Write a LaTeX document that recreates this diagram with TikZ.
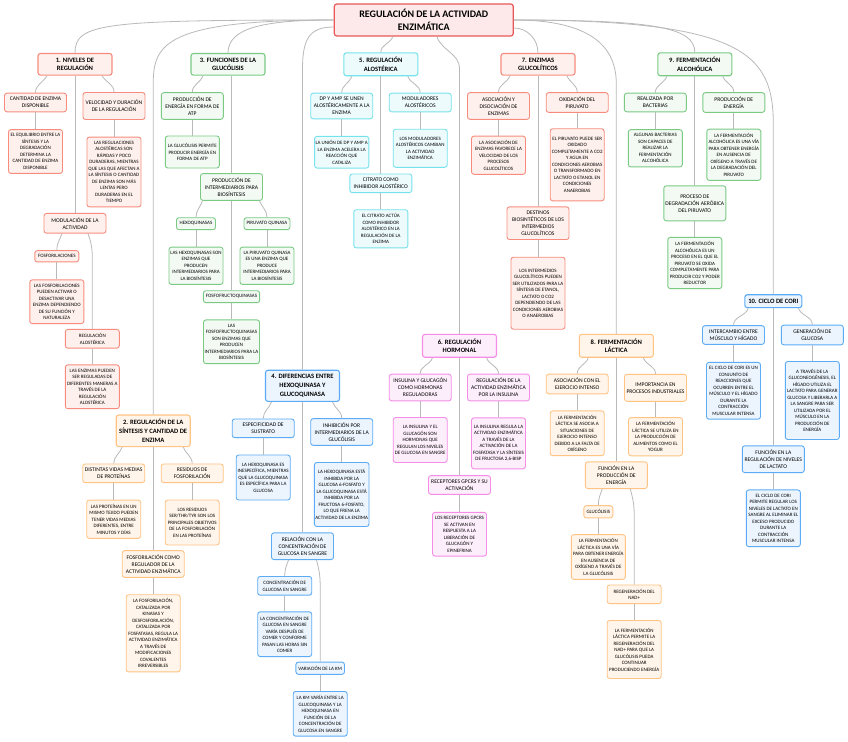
\documentclass[tikz,border=0pt]{standalone}
\usepackage{fontspec}
\setmainfont{Carlito}
\usepackage{xcolor}
\usepackage{tikz}
\usetikzlibrary{calc}

\definecolor{rootline}{RGB}{232,88,88}
\definecolor{rootfill}{RGB}{253,233,233}
\definecolor{redline}{RGB}{247,140,126}
\definecolor{redfill}{RGB}{254,241,237}
\definecolor{greenline}{RGB}{122,202,132}
\definecolor{greenfill}{RGB}{243,250,244}
\definecolor{cyanline}{RGB}{118,226,236}
\definecolor{cyanfill}{RGB}{238,251,253}
\definecolor{blueline}{RGB}{92,172,245}
\definecolor{bluefill}{RGB}{236,245,254}
\definecolor{pinkline}{RGB}{245,140,230}
\definecolor{pinkfill}{RGB}{253,238,251}
\definecolor{orangeline}{RGB}{255,196,132}
\definecolor{orangefill}{RGB}{255,245,234}
\definecolor{linkgray}{RGB}{185,185,185}

\begin{document}
\begin{tikzpicture}[
    x=1pt, y=1pt,
    box/.style={rectangle, draw, rounded corners=2.5pt, align=center, inner xsep=1pt, line width=0.9pt},
    title/.style={box, draw=rootline, fill=rootfill, line width=1.2pt, minimum width=179pt, minimum height=32pt, inner ysep=5pt, font=\bfseries\fontsize{10}{12.7}\selectfont},
    heading/.style={box, line width=1.1pt, minimum width=74pt, inner ysep=4.3pt, font=\bfseries\fontsize{6.6}{8.7}\selectfont},
    topic/.style={box, minimum width=62pt, inner ysep=4pt, font=\fontsize{5.6}{7}\selectfont},
    detail/.style={box, minimum width=54pt, inner ysep=4pt, font=\fontsize{5}{6.5}\selectfont},
    leaf/.style={detail, minimum width=0pt, inner xsep=2.5pt},
    redset/.style={draw=redline, fill=redfill},
    greenset/.style={draw=greenline, fill=greenfill},
    cyanset/.style={draw=cyanline, fill=cyanfill},
    blueset/.style={draw=blueline, fill=bluefill},
    pinkset/.style={draw=pinkline, fill=pinkfill},
    orangeset/.style={draw=orangeline, fill=orangefill},
    link/.style={draw=linkgray, line width=0.8pt}
]
\fill[white] (0,0) rectangle (848,-741);
\useasboundingbox (0,0) rectangle (848,-741);

% Title
\node[title] (root) at (423.8,-20) {REGULACIÓN DE LA ACTIVIDAD\\ENZIMÁTICA};

% 1. Niveles de regulacion
\node[heading, redset] (niveles) at (75,-64.3) {1. NIVELES DE\\REGULACIÓN};
\node[topic, redset] (cantidad) at (35.5,-102.5) {CANTIDAD DE ENZIMA\\DISPONIBLE};
\node[detail, redset] (cantidad_txt) at (35.5,-151.5) {EL EQUILIBRIO ENTRE LA\\SÍNTESIS Y LA\\DEGRADACIÓN\\DETERMINA LA\\CANTIDAD DE ENZIMA\\DISPONIBLE};
\node[topic, redset, minimum height=27pt] (velocidad) at (114,-106) {VELOCIDAD Y DURACIÓN\\DE LA REGULACIÓN};
\node[detail, redset] (velocidad_txt) at (114,-172) {LAS REGULACIONES\\ALOSTÉRICAS SON\\RÁPIDAS Y POCO\\DURADERAS, MIENTRAS\\QUE LAS QUE AFECTAN A\\LA SÍNTESIS O CANTIDAD\\DE ENZIMA SON MÁS\\LENTAS PERO\\DURADERAS EN EL\\TIEMPO};
\node[topic, redset] (modulacion) at (75,-223.3) {MODULACIÓN DE LA\\ACTIVIDAD};
\node[leaf, redset, minimum width=44pt] (fosforilaciones) at (56.8,-256.3) {FOSFORILACIONES};
\node[detail, redset] (fosforilaciones_txt) at (56.8,-301.7) {LAS FOSFORILACIONES\\PUEDEN ACTIVAR O\\DESACTIVAR UNA\\ENZIMA DEPENDIENDO\\DE SU FUNCIÓN Y\\NATURALEZA};
\node[detail, redset] (reg_alosterica) at (92.3,-338.8) {REGULACIÓN\\ALOSTÉRICA};
\node[detail, redset] (reg_alosterica_txt) at (92.3,-386.8) {LAS ENZIMAS PUEDEN\\SER REGULADAS DE\\DIFERENTES MANERAS A\\TRAVÉS DE LA\\REGULACIÓN\\ALOSTÉRICA};

% 2. Regulacion de la sintesis
\node[heading, orangeset] (sintesis) at (153.2,-430.8) {2. REGULACIÓN DE LA\\SÍNTESIS Y CANTIDAD DE\\ENZIMA};
\node[topic, orangeset] (vidas) at (113.7,-473.3) {DISTINTAS VIDAS MEDIAS\\DE PROTEÍNAS};
\node[detail, orangeset] (vidas_txt) at (113.7,-519.2) {LAS PROTEÍNAS EN UN\\MISMO TEJIDO PUEDEN\\TENER VIDAS MEDIAS\\DIFERENTES, ENTRE\\MINUTOS Y DÍAS};
\node[topic, orangeset] (residuos) at (192.2,-473.3) {RESIDUOS DE\\FOSFORILACIÓN};
\node[detail, orangeset, minimum height=45pt] (residuos_txt) at (192.2,-522.5) {LOS RESIDUOS\\SER/THR/TYR SON LOS\\PRINCIPALES OBJETIVOS\\DE LA FOSFORILACIÓN\\EN LAS PROTEÍNAS};
\node[topic, orangeset] (fosf_regulador) at (153.2,-564) {FOSFORILACIÓN COMO\\REGULADOR DE LA\\ACTIVIDAD ENZIMÁTICA};
\node[detail, orangeset] (fosf_regulador_txt) at (153.2,-633.3) {LA FOSFORILACIÓN,\\CATALIZADA POR\\KINASAS Y\\DESFOSFORILACIÓN,\\CATALIZADA POR\\FOSFATASAS, REGULA LA\\ACTIVIDAD ENZIMÁTICA\\A TRAVÉS DE\\MODIFICACIONES\\COVALENTES\\IRREVERSIBLES};

% 3. Funciones de la glucolisis
\node[heading, greenset] (funciones) at (228,-64.3) {3. FUNCIONES DE LA\\GLUCÓLISIS};
\node[topic, greenset] (energia_atp) at (192.3,-106) {PRODUCCIÓN DE\\ENERGÍA EN FORMA DE\\ATP};
\node[detail, greenset, minimum height=32pt] (energia_atp_txt) at (192.3,-152) {LA GLUCÓLISIS PERMITE\\PRODUCIR ENERGÍA EN\\FORMA DE ATP};
\node[topic, greenset] (intermediarios) at (231.5,-187) {PRODUCCIÓN DE\\INTERMEDIARIOS PARA\\BIOSÍNTESIS};
\node[leaf, greenset, minimum width=39pt] (hexoquinasas) at (196,-223.7) {HEXOQUINASAS};
\node[detail, greenset] (hexoquinasas_txt) at (196,-265.8) {LAS HEXOQUINASAS SON\\ENZIMAS QUE\\PRODUCEN\\INTERMEDIARIOS PARA\\LA BIOSÍNTESIS};
\node[leaf, greenset, minimum width=46pt] (piruvato_quinasa) at (267,-223.7) {PIRUVATO QUINASA};
\node[detail, greenset] (piruvato_quinasa_txt) at (267,-265.8) {LA PIRUVATO QUINASA\\ES UNA ENZIMA QUE\\PRODUCE\\INTERMEDIARIOS PARA\\LA BIOSÍNTESIS};
\node[leaf, greenset, minimum width=56pt] (fosfofructo) at (231.5,-296.7) {FOSFOFRUCTOQUINASAS};
\node[detail, greenset, minimum width=56pt] (fosfofructo_txt) at (231.5,-341.8) {LAS\\FOSFOFRUCTOQUINASAS\\SON ENZIMAS QUE\\PRODUCEN\\INTERMEDIARIOS PARA LA\\BIOSÍNTESIS};

% 4. Diferencias entre hexoquinasa y glucoquinasa
\node[heading, blueset] (diferencias) at (302.5,-385.8) {4. DIFERENCIAS ENTRE\\HEXOQUINASA Y\\GLUCOQUINASA};
\node[topic, blueset] (especificidad) at (263.2,-428.3) {ESPECIFICIDAD DE\\SUSTRATO};
\node[detail, blueset, minimum height=45pt] (especificidad_txt) at (263.2,-477.5) {LA HEXOQUINASA ES\\INESPECÍFICA, MIENTRAS\\QUE LA GLUCOQUINASA\\ES ESPECÍFICA PARA LA\\GLUCOSA};
\node[topic, blueset] (inhibicion) at (341.7,-432) {INHIBICIÓN POR\\INTERMEDIARIOS DE LA\\GLUCÓLISIS};
\node[detail, blueset, minimum height=64pt] (inhibicion_txt) at (341.7,-494.5) {LA HEXOQUINASA ESTÁ\\INHIBIDA POR LA\\GLUCOSA 6-FOSFATO Y\\LA GLUCOQUINASA ESTÁ\\INHIBIDA POR LA\\FRUCTOSA 6-FOSFATO,\\LO QUE FRENA LA\\ACTIVIDAD DE LA ENZIMA};
\node[topic, blueset] (relacion) at (302.5,-546.2) {RELACIÓN CON LA\\CONCENTRACIÓN DE\\GLUCOSA EN SANGRE};
\node[detail, blueset] (concentracion) at (284.7,-585.8) {CONCENTRACIÓN DE\\GLUCOSA EN SANGRE};
\node[detail, blueset] (concentracion_txt) at (284.7,-634.2) {LA CONCENTRACIÓN DE\\GLUCOSA EN SANGRE\\VARÍA DESPUÉS DE\\COMER Y CONFORME\\PASAN LAS HORAS SIN\\COMER};
\node[leaf, blueset, minimum width=48pt] (variacion_km) at (320.2,-668.2) {VARIACIÓN DE LA KM};
\node[detail, blueset] (variacion_km_txt) at (320.2,-713.8) {LA KM VARÍA ENTRE LA\\GLUCOQUINASA Y LA\\HEXOQUINASA EN\\FUNCIÓN DE LA\\CONCENTRACIÓN DE\\GLUCOSA EN SANGRE};

% 5. Regulacion alosterica
\node[heading, cyanset] (alosterica) at (380.8,-64.3) {5. REGULACIÓN\\ALOSTÉRICA};
\node[topic, cyanset] (dp_amp) at (341.7,-106) {DP Y AMP SE UNEN\\ALOSTÉRICAMENTE A LA\\ENZIMA};
\node[detail, cyanset] (dp_amp_txt) at (341.7,-152.2) {LA UNIÓN DE DP Y AMP A\\LA ENZIMA ACELERA LA\\REACCIÓN QUE\\CATALIZA};
\node[topic, cyanset] (moduladores) at (420.2,-102.5) {MODULADORES\\ALOSTÉRICOS};
\node[detail, cyanset, minimum height=38pt] (moduladores_txt) at (420.2,-148.3) {LOS MODULADORES\\ALOSTÉRICOS CAMBIAN\\LA ACTIVIDAD\\ENZIMÁTICA};
\node[topic, cyanset] (citrato) at (380.8,-183.3) {CITRATO COMO\\INHIBIDOR ALOSTÉRICO};
\node[detail, cyanset] (citrato_txt) at (380.8,-228.8) {EL CITRATO ACTÚA\\COMO INHIBIDOR\\ALOSTÉRICO EN LA\\REGULACIÓN DE LA\\ENZIMA};

% 6. Regulacion hormonal
\node[heading, pinkset] (hormonal) at (459.5,-345.8) {6. REGULACIÓN\\HORMONAL};
\node[topic, pinkset] (insulina_glucagon) at (420.2,-387.5) {INSULINA Y GLUCAGÓN\\COMO HORMONAS\\REGULADORAS};
\node[detail, pinkset, minimum height=45pt] (insulina_glucagon_txt) at (420.2,-440) {LA INSULINA Y EL\\GLUCAGÓN SON\\HORMONAS QUE\\REGULAN LOS NIVELES\\DE GLUCOSA EN SANGRE};
\node[topic, pinkset] (insulina_reg) at (498.5,-387.5) {REGULACIÓN DE LA\\ACTIVIDAD ENZIMÁTICA\\POR LA INSULINA};
\node[detail, pinkset, minimum height=51pt] (insulina_reg_txt) at (498.5,-443.3) {LA INSULINA REGULA LA\\ACTIVIDAD ENZIMÁTICA\\A TRAVÉS DE LA\\ACTIVACIÓN DE LA\\FOSFATASA Y LA SÍNTESIS\\DE FRUCTOSA 2,6-BISP};
\node[topic, pinkset] (gpcrs) at (459.5,-485) {RECEPTORES GPCRS Y SU\\ACTIVACIÓN};
\node[detail, pinkset] (gpcrs_txt) at (459.5,-534.2) {LOS RECEPTORES GPCRS\\SE ACTIVAN EN\\RESPUESTA A LA\\LIBERACIÓN DE\\GLUCAGÓN Y\\EPINEFRINA};

% 7. Enzimas glucoliticos
\node[heading, redset] (glucoliticos) at (538,-64.3) {7. ENZIMAS\\GLUCOLÍTICOS};
\node[topic, redset] (asociacion) at (498.5,-106) {ASOCIACIÓN Y\\DISOCIACIÓN DE\\ENZIMAS};
\node[detail, redset] (asociacion_txt) at (498.5,-155.2) {LA ASOCIACIÓN DE\\ENZIMAS FAVORECE LA\\VELOCIDAD DE LOS\\PROCESOS\\GLUCOLÍTICOS};
\node[topic, redset] (oxidacion) at (577.2,-102.5) {OXIDACIÓN DEL\\PIRUVATO};
\node[detail, redset, minimum height=72pt] (oxidacion_txt) at (577.2,-164.8) {EL PIRUVATO PUEDE SER\\OXIDADO\\COMPLETAMENTE A CO2\\Y AGUA EN\\CONDICIONES AEROBIAS\\O TRANSFORMADO EN\\LACTATO O ETANOL EN\\CONDICIONES\\ANAEROBIAS};
\node[topic, redset] (destinos) at (538,-223.2) {DESTINOS\\BIOSINTÉTICOS DE LOS\\INTERMEDIOS\\GLUCOLÍTICOS};
\node[detail, redset, minimum height=72pt] (destinos_txt) at (538,-293.2) {LOS INTERMEDIOS\\GLUCOLÍTICOS PUEDEN\\SER UTILIZADOS PARA LA\\SÍNTESIS DE ETANOL,\\LACTATO O CO2\\DEPENDIENDO DE LAS\\CONDICIONES AEROBIAS\\O ANAEROBIAS};

% 8. Fermentacion lactica
\node[heading, orangeset] (lactica) at (616.3,-345.8) {8. FERMENTACIÓN\\LÁCTICA};
\node[topic, orangeset] (ejercicio) at (577.2,-384) {ASOCIACIÓN CON EL\\EJERCICIO INTENSO};
\node[detail, orangeset] (ejercicio_txt) at (577.2,-433.3) {LA FERMENTACIÓN\\LÁCTICA SE ASOCIA A\\SITUACIONES DE\\EJERCICIO INTENSO\\DEBIDO A LA FALTA DE\\OXÍGENO};
\node[topic, orangeset, minimum height=27pt] (industriales) at (655.5,-387.8) {IMPORTANCIA EN\\PROCESOS INDUSTRIALES};
\node[detail, orangeset] (industriales_txt) at (655.5,-436.7) {LA FERMENTACIÓN\\LÁCTICA SE UTILIZA EN\\LA PRODUCCIÓN DE\\ALIMENTOS COMO EL\\YOGUR};
\node[topic, orangeset] (funcion_energia) at (616.3,-475.2) {FUNCIÓN EN LA\\PRODUCCIÓN DE\\ENERGÍA};
\node[leaf, orangeset, minimum width=29pt] (glucolisis) at (598.3,-511.8) {GLUCÓLISIS};
\node[detail, orangeset] (glucolisis_txt) at (598.3,-557) {LA FERMENTACIÓN\\LÁCTICA ES UNA VÍA\\PARA OBTENER ENERGÍA\\EN AUSENCIA DE\\OXÍGENO A TRAVÉS DE\\LA GLUCÓLISIS};
\node[detail, orangeset] (nad) at (634.2,-594.3) {REGENERACIÓN DEL\\NAD+};
\node[detail, orangeset, minimum height=58pt] (nad_txt) at (634.2,-649.5) {LA FERMENTACIÓN\\LÁCTICA PERMITE LA\\REGENERACIÓN DEL\\NAD+ PARA QUE LA\\GLUCÓLISIS PUEDA\\CONTINUAR\\PRODUCIENDO ENERGÍA};

% 9. Fermentacion alcoholica
\node[heading, greenset] (alcoholica) at (694.8,-64.3) {9. FERMENTACIÓN\\ALCOHÓLICA};
\node[topic, greenset] (bacterias) at (655.3,-102.5) {REALIZADA POR\\BACTERIAS};
\node[detail, greenset] (bacterias_txt) at (655.3,-148.3) {ALGUNAS BACTERIAS\\SON CAPACES DE\\REALIZAR LA\\FERMENTACIÓN\\ALCOHÓLICA};
\node[topic, greenset] (energia_alc) at (733.8,-102.5) {PRODUCCIÓN DE\\ENERGÍA};
\node[detail, greenset] (energia_alc_txt) at (733.8,-154.8) {LA FERMENTACIÓN\\ALCOHÓLICA ES UNA VÍA\\PARA OBTENER ENERGÍA\\EN AUSENCIA DE\\OXÍGENO A TRAVÉS DE\\LA DEGRADACIÓN DEL\\PIRUVATO};
\node[topic, greenset, minimum height=35pt] (aerobica) at (694.8,-203.3) {PROCESO DE\\DEGRADACIÓN AERÓBICA\\DEL PIRUVATO};
\node[detail, greenset] (aerobica_txt) at (694.8,-263) {LA FERMENTACIÓN\\ALCOHÓLICA ES UN\\PROCESO EN EL QUE EL\\PIRUVATO SE OXIDA\\COMPLETAMENTE PARA\\PRODUCIR CO2 Y PODER\\REDUCTOR};

% 10. Ciclo de Cori
\node[heading, blueset, minimum width=57pt] (cori) at (773.3,-301.2) {10. CICLO DE CORI};
\node[topic, blueset] (intercambio) at (733.5,-335) {INTERCAMBIO ENTRE\\MÚSCULO Y HÍGADO};
\node[detail, blueset] (intercambio_txt) at (733.5,-390.8) {EL CICLO DE CORI ES UN\\CONJUNTO DE\\REACCIONES QUE\\OCURREN ENTRE EL\\MÚSCULO Y EL HÍGADO\\DURANTE LA\\CONTRACCIÓN\\MUSCULAR INTENSA};
\node[topic, blueset] (gluconeo) at (812.3,-335) {GENERACIÓN DE\\GLUCOSA};
\node[detail, blueset, minimum height=78pt] (gluconeo_txt) at (812.3,-400.5) {A TRAVÉS DE LA\\GLUCONEOGÉNESIS, EL\\HÍGADO UTILIZA EL\\LACTATO PARA GENERAR\\GLUCOSA Y LIBERARLA A\\LA SANGRE PARA SER\\UTILIZADA POR EL\\MÚSCULO EN LA\\PRODUCCIÓN DE\\ENERGÍA};
\node[topic, blueset] (lactato) at (773.3,-459.2) {FUNCIÓN EN LA\\REGULACIÓN DE NIVELES\\DE LACTATO};
\node[detail, blueset] (lactato_txt) at (773.3,-518.3) {EL CICLO DE CORI\\PERMITE REGULAR LOS\\NIVELES DE LACTATO EN\\SANGRE AL ELIMINAR EL\\EXCESO PRODUCIDO\\DURANTE LA\\CONTRACCIÓN\\MUSCULAR INTENSA};

% Main branches
\draw[link] (root.west) .. controls +(-230,0) and +(0,30) .. (niveles.north);
\draw[link] (root.west) .. controls +(-170,0) and +(0,40) .. ($(sintesis.north)+(0,330)$) -- (sintesis.north);
\draw[link] (root.west) .. controls +(-70,0) and +(0,25) .. (funciones.north);
\draw[link] ([yshift=-7pt]root.west) .. controls +(-25,0) and +(0,30) .. ($(diferencias.north)+(0,300)$) -- (diferencias.north);
\draw[link] ([xshift=-31pt]root.south) to[out=250,in=90] (alosterica.north);
\draw[link] ([xshift=13pt]root.south) to[out=-70,in=90] ($(hormonal.north)+(0,265)$) -- (hormonal.north);
\draw[link] ([yshift=-8pt]root.east) to[out=0,in=90] (glucoliticos.north);
\draw[link] (root.east) .. controls +(80,0) and +(0,35) .. ($(lactica.north)+(0,250)$) -- (lactica.north);
\draw[link] (root.east) .. controls +(140,0) and +(0,25) .. (alcoholica.north);
\draw[link] (root.east) .. controls +(230,0) and +(0,70) .. ($(cori.north)+(0,170)$) -- (cori.north);

% Branch 1 links
\draw[link] ([xshift=-28pt]niveles.south) to[out=240,in=90] (cantidad.north);
\draw[link] ([xshift=27pt]niveles.south) to[out=-60,in=90] (velocidad.north);
\draw[link] (niveles) -- (modulacion);
\draw[link] (cantidad) -- (cantidad_txt);
\draw[link] (velocidad) -- (velocidad_txt);
\draw[link] ([xshift=-13pt]modulacion.south) to[out=250,in=90] (fosforilaciones.north);
\draw[link] ([xshift=13pt]modulacion.south) to[out=-70,in=90] ($(reg_alosterica.north)+(0,70)$) -- (reg_alosterica.north);
\draw[link] (fosforilaciones) -- (fosforilaciones_txt);
\draw[link] (reg_alosterica) -- (reg_alosterica_txt);

% Branch 2 links
\draw[link] ([xshift=-31pt]sintesis.south) to[out=250,in=90] (vidas.north);
\draw[link] ([xshift=30pt]sintesis.south) to[out=-70,in=90] (residuos.north);
\draw[link] (sintesis) -- (fosf_regulador);
\draw[link] (vidas) -- (vidas_txt);
\draw[link] (residuos) -- (residuos_txt);
\draw[link] (fosf_regulador) -- (fosf_regulador_txt);

% Branch 3 links
\draw[link] ([xshift=-25pt]funciones.south) to[out=250,in=90] (energia_atp.north);
\draw[link] (funciones.south -| intermediarios.north) -- (intermediarios.north);
\draw[link] (energia_atp) -- (energia_atp_txt);
\draw[link] ([xshift=-29pt]intermediarios.south) to[out=250,in=90] (hexoquinasas.north);
\draw[link] ([xshift=28pt]intermediarios.south) to[out=-70,in=90] (piruvato_quinasa.north);
\draw[link] (intermediarios) -- (fosfofructo);
\draw[link] (hexoquinasas) -- (hexoquinasas_txt);
\draw[link] (piruvato_quinasa) -- (piruvato_quinasa_txt);
\draw[link] (fosfofructo) -- (fosfofructo_txt);

% Branch 4 links
\draw[link] ([xshift=-31pt]diferencias.south) to[out=250,in=90] (especificidad.north);
\draw[link] ([xshift=30pt]diferencias.south) to[out=-70,in=90] (inhibicion.north);
\draw[link] (diferencias) -- (relacion);
\draw[link] (especificidad) -- (especificidad_txt);
\draw[link] (inhibicion) -- (inhibicion_txt);
\draw[link] ([xshift=-14pt]relacion.south) to[out=250,in=90] (concentracion.north);
\draw[link] ([xshift=14pt]relacion.south) to[out=-75,in=90] ($(variacion_km.north)+(0,75)$) -- (variacion_km.north);
\draw[link] (concentracion) -- (concentracion_txt);
\draw[link] (variacion_km) -- (variacion_km_txt);

% Branch 5 links
\draw[link] ([xshift=-29pt]alosterica.south) to[out=250,in=90] (dp_amp.north);
\draw[link] ([xshift=27pt]alosterica.south) to[out=-70,in=90] (moduladores.north);
\draw[link] (alosterica) -- (citrato);
\draw[link] (dp_amp) -- (dp_amp_txt);
\draw[link] (moduladores) -- (moduladores_txt);
\draw[link] (citrato) -- (citrato_txt);

% Branch 6 links
\draw[link] ([xshift=-27pt]hormonal.south) to[out=250,in=90] (insulina_glucagon.north);
\draw[link] ([xshift=27pt]hormonal.south) to[out=-70,in=90] (insulina_reg.north);
\draw[link] (hormonal) -- (gpcrs);
\draw[link] (insulina_glucagon) -- (insulina_glucagon_txt);
\draw[link] (insulina_reg) -- (insulina_reg_txt);
\draw[link] (gpcrs) -- (gpcrs_txt);

% Branch 7 links
\draw[link] ([xshift=-28pt]glucoliticos.south) to[out=250,in=90] (asociacion.north);
\draw[link] ([xshift=29pt]glucoliticos.south) to[out=-70,in=90] (oxidacion.north);
\draw[link] (glucoliticos) -- (destinos);
\draw[link] (asociacion) -- (asociacion_txt);
\draw[link] (oxidacion) -- (oxidacion_txt);
\draw[link] (destinos) -- (destinos_txt);

% Branch 8 links
\draw[link] ([xshift=-28pt]lactica.south) to[out=250,in=90] (ejercicio.north);
\draw[link] ([xshift=27pt]lactica.south) to[out=-70,in=90] (industriales.north);
\draw[link] (lactica) -- (funcion_energia);
\draw[link] (ejercicio) -- (ejercicio_txt);
\draw[link] (industriales) -- (industriales_txt);
\draw[link] ([xshift=-14pt]funcion_energia.south) to[out=250,in=90] (glucolisis.north);
\draw[link] ([xshift=14pt]funcion_energia.south) to[out=-75,in=90] ($(nad.north)+(0,70)$) -- (nad.north);
\draw[link] (glucolisis) -- (glucolisis_txt);
\draw[link] (nad) -- (nad_txt);

% Branch 9 links
\draw[link] ([xshift=-28pt]alcoholica.south) to[out=250,in=90] (bacterias.north);
\draw[link] ([xshift=28pt]alcoholica.south) to[out=-70,in=90] (energia_alc.north);
\draw[link] (alcoholica) -- (aerobica);
\draw[link] (bacterias) -- (bacterias_txt);
\draw[link] (energia_alc) -- (energia_alc_txt);
\draw[link] (aerobica) -- (aerobica_txt);

% Branch 10 links
\draw[link] ([xshift=-25pt]cori.south) to[out=250,in=90] (intercambio.north);
\draw[link] ([xshift=25pt]cori.south) to[out=-70,in=90] (gluconeo.north);
\draw[link] (cori) -- (lactato);
\draw[link] (intercambio) -- (intercambio_txt);
\draw[link] (gluconeo) -- (gluconeo_txt);
\draw[link] (lactato) -- (lactato_txt);

\end{tikzpicture}
\end{document}
